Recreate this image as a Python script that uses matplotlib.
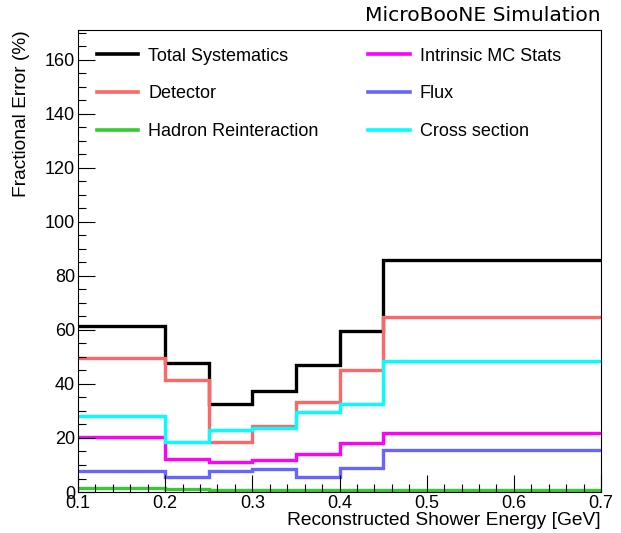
import numpy as np
import matplotlib
matplotlib.use("Agg")
import matplotlib.pyplot as plt
from matplotlib.ticker import MultipleLocator
from matplotlib.lines import Line2D

plt.rcParams['font.family'] = ['Liberation Sans', 'DejaVu Sans']

# bin edges in reconstructed shower energy [GeV]
edges = [0.1, 0.2, 0.25, 0.3, 0.35, 0.4, 0.45, 0.7]

# fractional errors (%) per bin
total = [61.5, 47.6, 32.7, 37.5, 46.9, 59.7, 85.8]
detector = [49.7, 41.5, 18.4, 24.6, 33.2, 45.3, 64.9]
hadron = [1.4, 1.1, 0.7, 0.6, 0.6, 0.6, 0.8]
mc_stats = [20.5, 12.1, 11.0, 11.7, 13.9, 18.3, 22.0]
flux = [7.8, 5.5, 7.8, 8.6, 5.5, 8.9, 15.4]
xsec = [28.3, 18.4, 23.1, 23.6, 29.5, 32.7, 48.6]

series = [
    ("Total Systematics", total, "black"),
    ("Intrinsic MC Stats", mc_stats, "#ff00ff"),
    ("Detector", detector, "#ff6666"),
    ("Flux", flux, "#6666ff"),
    ("Hadron Reinteraction", hadron, "#33cc33"),
    ("Cross section", xsec, "#00ffff"),
]
colours = {name: col for name, _, col in series}

fig = plt.figure(figsize=(6.21, 5.33), dpi=100)
ax = fig.add_axes([0.1256, 0.0769, 0.8422, 0.8668])

for name, vals, col in series:
    ax.stairs(vals, edges, baseline=None, color=col, linewidth=2.4, label=name)

ax.set_xlim(0.1, 0.7)
ax.set_ylim(0, 171)

ax.xaxis.set_major_locator(MultipleLocator(0.1))
ax.xaxis.set_minor_locator(MultipleLocator(0.02))
ax.yaxis.set_major_locator(MultipleLocator(20))
ax.yaxis.set_minor_locator(MultipleLocator(5))
ax.tick_params(which='both', direction='in', top=False, right=False,
               labelsize=13, pad=2)
ax.tick_params(which='major', length=12, width=0.8)
ax.tick_params(which='minor', length=6, width=0.8)
ax.set_xticks(np.arange(0.1, 0.71, 0.1))
ax.set_xticklabels(["0.1", "0.2", "0.3", "0.4", "0.5", "0.6", "0.7"])

ax.set_xlabel("Reconstructed Shower Energy [GeV]", fontsize=13.8, loc='right', labelpad=0)
ax.set_ylabel("Fractional Error (%)", fontsize=13.8, loc='top')
ax.yaxis.set_label_coords(-0.091, 1.0)

order = ["Total Systematics", "Detector", "Hadron Reinteraction",
         "Intrinsic MC Stats", "Flux", "Cross section"]
leg_handles = [Line2D([], [], color=colours[n], linewidth=2.6) for n in order]
ax.legend(leg_handles, order, ncol=2, frameon=False, fontsize=13,
          loc='upper left', bbox_to_anchor=(0.005, 0.997),
          handlelength=2.3, handletextpad=0.55, labelspacing=1.15,
          columnspacing=2.75)

fig.text(0.967, 0.953, "MicroBooNE Simulation", ha='right', va='bottom',
         fontsize=14.6, family='DejaVu Sans')

fig.savefig("out.png", dpi=100)
